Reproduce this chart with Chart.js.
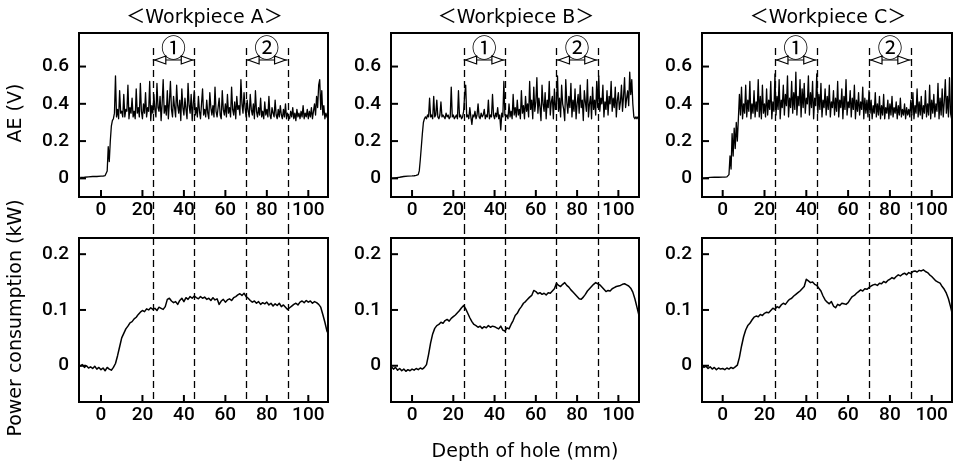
<!DOCTYPE html>
<html>
<head>
<meta charset="utf-8">
<script src="https://cdn.jsdelivr.net/npm/chart.js@4.4.1/dist/chart.umd.min.js"></script>
<style>
  html, body { margin:0; padding:0; background:#fff; width:955px; height:467px; overflow:hidden; }
  canvas { position:absolute; }
</style>
</head>
<body>
<canvas id="ae_A"></canvas>
<canvas id="ae_B"></canvas>
<canvas id="ae_C"></canvas>
<canvas id="power_A"></canvas>
<canvas id="power_B"></canvas>
<canvas id="power_C"></canvas>
<script>
// ---- data ----
var panelTitles = ["＜Workpiece A＞", "＜Workpiece B＞", "＜Workpiece C＞"];
var aeTitle = "AE (V)";
var powerTitle = "Power consumption (kW)";
var depthTitle = "Depth of hole (mm)";

var xTicks = [0, 20, 40, 60, 80, 100];
var aeTicks = [0, 0.2, 0.4, 0.6];
var powerTicks = [0, 0.1, 0.2];

var regionBounds = [25, 45, 70, 90];   // dashed lines
var regionLabels = ["①", "②"];         // between 25-45 and 70-90

// AE sampling grid: a few points before the jump, then every 0.5 mm
var aeDepth = [-10, -8, -6, -4, -2, 0, 1, 2, 3, 3.5, 4, 4.5, 5, 5.5];
for (var d = 6; d <= 110; d += 0.5) aeDepth.push(d);

var aeA = [
  0.005,0.006,0.008,0.01,0.01,0.012,0.012,0.015,0.04,0.17,0.09,0.2,0.28,0.31,
  0.32,0.35,0.55,0.33,0.37,0.32,0.47,0.35,0.36,0.33,   // 6-10.5
  0.45,0.33,0.37,0.36,0.50,0.32,0.38,0.35,0.43,0.33,   // 11-15.5
  0.36,0.32,0.48,0.35,0.38,0.33,0.51,0.36,0.32,0.40,   // 16-20.5
  0.35,0.46,0.33,0.38,0.36,0.52,0.31,0.39,0.35,0.45,   // 21-25.5
  0.37,0.33,0.51,0.38,0.36,0.44,0.31,0.40,0.53,0.35,   // 26-30.5
  0.39,0.34,0.47,0.32,0.41,0.52,0.37,0.33,0.44,0.38,   // 31-35.5
  0.33,0.50,0.39,0.35,0.42,0.31,0.48,0.38,0.34,0.43,   // 36-40.5
  0.37,0.32,0.51,0.39,0.35,0.45,0.31,0.40,0.47,0.34,   // 41-45.5
  0.38,0.33,0.44,0.36,0.32,0.40,0.48,0.34,0.37,0.33,   // 46-50.5
  0.42,0.35,0.32,0.46,0.38,0.34,0.39,0.33,0.49,0.36,   // 51-55.5
  0.33,0.38,0.43,0.34,0.32,0.47,0.37,0.34,0.40,0.33,   // 56-60.5
  0.45,0.35,0.38,0.33,0.49,0.37,0.34,0.41,0.32,0.44,   // 61-65.5
  0.37,0.39,0.34,0.53,0.40,0.35,0.46,0.38,0.33,0.42,   // 66-70.5
  0.36,0.33,0.45,0.37,0.34,0.40,0.32,0.47,0.36,0.33,   // 71-75.5
  0.38,0.34,0.43,0.33,0.36,0.32,0.41,0.34,0.37,0.33,   // 76-80.5
  0.44,0.34,0.32,0.38,0.35,0.33,0.42,0.34,0.32,0.37,   // 81-85.5
  0.33,0.39,0.34,0.32,0.37,0.33,0.40,0.32,0.35,0.33,   // 86-90.5
  0.32,0.36,0.33,0.38,0.32,0.35,0.31,0.37,0.33,0.35,   // 91-95.5
  0.32,0.36,0.33,0.39,0.32,0.35,0.33,0.37,0.32,0.36,   // 96-100.5
  0.33,0.38,0.32,0.36,0.40,0.34,0.44,0.38,0.50,0.53,   // 101-105.5
  0.37,0.47,0.34,0.39,0.32,0.35,0.33,0.32,0.33         // 106-110
];

var aeB = [
  0.0,0.003,0.006,0.01,0.012,0.013,0.014,0.016,0.02,0.04,0.1,0.17,0.24,0.3,
  0.32,0.33,0.32,0.34,0.33,0.43,0.33,0.34,0.32,0.44,   // 6-10.5
  0.33,0.34,0.42,0.33,0.32,0.34,0.41,0.33,0.34,0.33,   // 11-15.5
  0.32,0.35,0.33,0.34,0.32,0.33,0.49,0.33,0.34,0.32,   // 16-20.5
  0.33,0.34,0.32,0.47,0.33,0.34,0.32,0.33,0.36,0.45,   // 21-25.5
  0.50,0.33,0.34,0.32,0.38,0.33,0.29,0.34,0.33,0.36,   // 26-30.5
  0.32,0.34,0.40,0.33,0.32,0.35,0.33,0.34,0.37,0.32,   // 31-35.5
  0.34,0.33,0.42,0.32,0.34,0.33,0.45,0.34,0.32,0.35,   // 36-40.5
  0.33,0.38,0.32,0.34,0.26,0.35,0.33,0.52,0.34,0.33,   // 41-45.5
  0.34,0.32,0.40,0.33,0.36,0.32,0.45,0.34,0.38,0.33,   // 46-50.5
  0.42,0.34,0.37,0.32,0.47,0.35,0.39,0.32,0.44,0.36,   // 51-55.5
  0.40,0.33,0.52,0.37,0.42,0.32,0.49,0.36,0.41,0.54,   // 56-60.5
  0.35,0.43,0.38,0.31,0.50,0.40,0.36,0.46,0.32,0.42,   // 61-65.5
  0.38,0.52,0.34,0.41,0.44,0.32,0.48,0.37,0.40,0.55,   // 66-70.5
  0.36,0.43,0.33,0.50,0.40,0.37,0.31,0.53,0.41,0.35,   // 71-75.5
  0.44,0.38,0.51,0.33,0.42,0.36,0.48,0.32,0.40,0.45,   // 76-80.5
  0.35,0.50,0.38,0.42,0.31,0.47,0.41,0.36,0.53,0.33,   // 81-85.5
  0.40,0.44,0.32,0.49,0.37,0.42,0.34,0.52,0.38,0.55,   // 86-90.5
  0.36,0.43,0.40,0.50,0.33,0.41,0.37,0.47,0.34,0.44,   // 91-95.5
  0.40,0.52,0.36,0.43,0.38,0.49,0.33,0.42,0.46,0.37,   // 96-100.5
  0.41,0.50,0.36,0.44,0.54,0.38,0.43,0.47,0.39,0.57,   // 101-105.5
  0.45,0.53,0.40,0.33,0.32,0.33,0.32,0.33,0.32         // 106-110
];

var aeC = [
  0.0,0.003,0.005,0.006,0.006,0.007,0.007,0.008,0.02,0.12,0.05,0.24,0.12,0.27,
  0.16,0.30,0.20,0.32,0.45,0.34,0.49,0.32,0.40,0.35,   // 6-10.5
  0.50,0.33,0.42,0.36,0.52,0.32,0.40,0.35,0.47,0.33,   // 11-15.5
  0.41,0.36,0.53,0.33,0.44,0.32,0.50,0.35,0.40,0.33,   // 16-20.5
  0.48,0.34,0.42,0.37,0.52,0.32,0.41,0.36,0.56,0.34,   // 21-25.5
  0.44,0.37,0.53,0.32,0.42,0.38,0.50,0.34,0.45,0.39,   // 26-30.5
  0.55,0.33,0.43,0.38,0.52,0.35,0.46,0.37,0.57,0.34,   // 31-35.5
  0.44,0.39,0.53,0.33,0.48,0.38,0.51,0.35,0.43,0.40,   // 36-40.5
  0.55,0.34,0.46,0.38,0.52,0.32,0.43,0.39,0.56,0.35,   // 41-45.5
  0.45,0.37,0.51,0.33,0.42,0.38,0.48,0.34,0.44,0.37,   // 46-50.5
  0.50,0.33,0.41,0.38,0.47,0.34,0.43,0.36,0.52,0.33,   // 51-55.5
  0.42,0.38,0.48,0.32,0.44,0.37,0.53,0.34,0.41,0.38,   // 56-60.5
  0.47,0.33,0.43,0.37,0.50,0.32,0.42,0.36,0.46,0.34,   // 61-65.5
  0.41,0.37,0.49,0.32,0.43,0.35,0.42,0.33,0.47,0.35,   // 66-70.5
  0.42,0.32,0.39,0.35,0.46,0.33,0.40,0.34,0.44,0.32,   // 71-75.5
  0.39,0.34,0.45,0.32,0.38,0.35,0.42,0.32,0.40,0.34,   // 76-80.5
  0.44,0.33,0.38,0.35,0.41,0.32,0.39,0.34,0.43,0.33,   // 81-85.5
  0.37,0.34,0.40,0.32,0.38,0.34,0.37,0.33,0.42,0.34,   // 86-90.5
  0.46,0.32,0.39,0.35,0.48,0.33,0.41,0.34,0.44,0.32,   // 91-95.5
  0.39,0.35,0.47,0.33,0.40,0.34,0.50,0.32,0.42,0.35,   // 96-100.5
  0.45,0.33,0.40,0.36,0.51,0.32,0.43,0.34,0.48,0.33,   // 101-105.5
  0.41,0.53,0.35,0.44,0.33,0.54,0.35,0.32,0.33         // 106-110
];

// power sampling grid: every 1 mm from -10 to 110
var powerDepth = [];
for (var p = -10; p <= 110; p++) powerDepth.push(p);

var powerA = [
  -0.001,0.002,-0.003,0.000,-0.004,-0.002,-0.005,-0.001,-0.006,-0.003,  // -10..-1
  -0.007,-0.004,-0.009,-0.003,-0.006,-0.008,-0.003,0.004,0.018,0.034,   // 0..9
  0.05,0.058,0.066,0.071,0.077,0.079,0.084,0.087,0.092,0.096,           // 10..19
  0.099,0.097,0.102,0.1,0.104,0.101,0.103,0.099,0.105,0.103,            // 20..29
  0.101,0.106,0.119,0.121,0.116,0.113,0.115,0.11,0.117,0.121,           // 30..39
  0.115,0.122,0.119,0.124,0.121,0.125,0.122,0.12,0.124,0.121,           // 40..49
  0.123,0.119,0.121,0.117,0.122,0.118,0.12,0.11,0.116,0.119,            // 50..59
  0.114,0.118,0.12,0.117,0.122,0.124,0.127,0.129,0.126,0.13,            // 60..69
  0.124,0.121,0.117,0.114,0.116,0.112,0.115,0.11,0.113,0.111,           // 70..79
  0.114,0.109,0.112,0.107,0.111,0.108,0.112,0.106,0.109,0.105,          // 80..89
  0.101,0.104,0.107,0.11,0.112,0.109,0.114,0.116,0.113,0.117,           // 90..99
  0.114,0.116,0.112,0.115,0.113,0.11,0.105,0.092,0.078,0.062,           // 100..109
  0.055
];

var powerB = [
  -0.002,-0.006,-0.003,-0.008,-0.005,-0.009,-0.006,-0.01,-0.007,-0.009,
  -0.006,-0.008,-0.005,-0.007,-0.004,-0.006,-0.003,0.002,0.02,0.041,
  0.057,0.067,0.072,0.074,0.078,0.076,0.081,0.083,0.08,0.085,
  0.088,0.091,0.095,0.099,0.104,0.108,0.102,0.094,0.086,0.079,
  0.074,0.072,0.069,0.071,0.067,0.07,0.068,0.072,0.069,0.071,
  0.07,0.068,0.066,0.071,0.064,0.062,0.068,0.066,0.074,0.081,
  0.09,0.094,0.101,0.106,0.112,0.115,0.119,0.123,0.126,0.135,
  0.133,0.129,0.131,0.128,0.13,0.127,0.131,0.13,0.134,0.138,
  0.148,0.144,0.142,0.146,0.149,0.144,0.141,0.136,0.132,0.128,
  0.124,0.12,0.119,0.123,0.128,0.134,0.138,0.142,0.146,0.149,
  0.147,0.145,0.141,0.137,0.133,0.135,0.134,0.138,0.14,0.142,
  0.143,0.144,0.146,0.147,0.145,0.143,0.139,0.132,0.12,0.105,
  0.09
];

var powerC = [
  0.002,-0.003,-0.001,-0.005,-0.002,-0.006,-0.003,-0.007,-0.004,-0.006,
  -0.005,-0.007,-0.004,-0.006,-0.003,-0.005,-0.002,0.001,0.015,0.035,
  0.052,0.064,0.072,0.076,0.082,0.087,0.089,0.088,0.092,0.09,
  0.094,0.096,0.095,0.099,0.103,0.101,0.106,0.104,0.109,0.112,
  0.11,0.115,0.119,0.121,0.125,0.128,0.131,0.134,0.138,0.142,
  0.155,0.152,0.149,0.15,0.146,0.144,0.139,0.134,0.125,0.118,
  0.114,0.111,0.115,0.107,0.104,0.11,0.108,0.112,0.111,0.11,
  0.113,0.119,0.124,0.126,0.13,0.133,0.136,0.134,0.138,0.137,
  0.14,0.143,0.145,0.146,0.144,0.148,0.147,0.151,0.149,0.153,
  0.155,0.158,0.156,0.16,0.163,0.161,0.164,0.166,0.163,0.167,
  0.165,0.169,0.17,0.168,0.171,0.17,0.172,0.169,0.167,0.163,
  0.16,0.156,0.152,0.15,0.148,0.142,0.137,0.13,0.12,0.106,
  0.09
];

// ---- layout of the six panels ----
var plotLeft = [79, 391, 702];
var plotWidth = [249, 248, 250];
var xMin = [-10.6, -10.2, -9.9];
var xMax = [109.5, 110, 109.7];
var tickFont = { family: "Roboto, 'Liberation Sans', sans-serif", size: 19, weight: '500' };
var textFont = "'DejaVu Sans', 'Noto Sans CJK JP', sans-serif";

function toPoints(xs, ys) {
  var pts = [];
  for (var i = 0; i < xs.length && i < ys.length; i++) pts.push({ x: xs[i], y: ys[i] });
  return pts;
}

// frame, inner tick marks, dashed region lines, arrows and titles
var panelPlugin = {
  id: 'panel',
  afterDatasetsDraw: function(chart, args, opts) {
    var ctx = chart.ctx, a = chart.chartArea;
    var xs = chart.scales.x, ys = chart.scales.y;
    ctx.save();
    ctx.strokeStyle = '#000';
    ctx.fillStyle = '#000';

    ctx.lineWidth = 1.3;
    ctx.setLineDash([7, 4]);
    regionBounds.forEach(function(v) {
      var px = Math.round(xs.getPixelForValue(v)) + 0.5;
      ctx.beginPath();
      ctx.moveTo(px, opts.top ? 48 : a.top - 11);
      ctx.lineTo(px, opts.top ? chart.height : a.bottom);
      ctx.stroke();
    });
    ctx.setLineDash([]);

    ctx.lineWidth = 2;
    ctx.strokeRect(a.left, a.top, a.right - a.left, a.bottom - a.top);
    xTicks.forEach(function(v) {
      var px = xs.getPixelForValue(v);
      ctx.beginPath(); ctx.moveTo(px, a.bottom); ctx.lineTo(px, a.bottom - 7); ctx.stroke();
    });
    ys.ticks.forEach(function(t) {
      var py = ys.getPixelForValue(t.value);
      ctx.beginPath(); ctx.moveTo(a.left, py); ctx.lineTo(a.left + 7, py); ctx.stroke();
    });

    ctx.textAlign = 'center';
    ctx.textBaseline = 'middle';
    if (opts.top) {
      ctx.lineWidth = 1.2;
      for (var r = 0; r < regionLabels.length; r++) {
        var x1 = xs.getPixelForValue(regionBounds[r * 2]);
        var x2 = xs.getPixelForValue(regionBounds[r * 2 + 1]);
        var y = 60;
        ctx.beginPath(); ctx.moveTo(x1, y); ctx.lineTo(x2, y); ctx.stroke();
        [[x1 + 2, 1], [x2 - 2, -1]].forEach(function(h) {
          ctx.beginPath();
          ctx.moveTo(h[0], y);
          ctx.lineTo(h[0] + h[1] * 11, y - 4);
          ctx.lineTo(h[0] + h[1] * 11, y + 4);
          ctx.closePath();
          ctx.fillStyle = '#fff'; ctx.fill();
          ctx.stroke();
        });
        ctx.fillStyle = '#000';
        ctx.font = "25px 'Noto Sans CJK JP', 'DejaVu Sans', sans-serif";
        ctx.fillText(regionLabels[r], (x1 + x2) / 2, 47);
      }
      ctx.font = "19px " + textFont;
      ctx.fillText(opts.title, (a.left + a.right) / 2 + 1, 18);
    }
    if (opts.xTitle) {
      ctx.font = "19px " + textFont;
      ctx.fillText(opts.xTitle, (a.left + a.right) / 2 + 10, a.bottom + 50);
    }
    if (opts.yTitle) {
      ctx.font = "19px " + textFont;
      ctx.translate(16.5, (a.top + a.bottom) / 2 - 2);
      ctx.rotate(-Math.PI / 2);
      ctx.fillText(opts.yTitle, 0, 0);
    }
    ctx.restore();
  }
};

function makePanel(id, col, row, depth, values, yTicks, yMin, yMax) {
  var axisW = col == 0 ? 79 : 60;
  var canvas = document.getElementById(id);
  // bottom canvases start at 190 so the long left title fits; plot top stays at 238
  canvas.width = axisW + plotWidth[col] + 5;
  canvas.height = row == 0 ? 227 : 277;
  canvas.style.left = (plotLeft[col] - axisW) + 'px';
  canvas.style.top = (row == 0 ? 0 : 190) + 'px';

  return new Chart(canvas.getContext('2d'), {
    type: 'line',
    data: {
      datasets: [{
        data: toPoints(depth, values),
        borderColor: '#000',
        borderWidth: row == 0 ? 1.3 : 1.5,
        borderJoinStyle: 'round',
        pointRadius: 0,
        tension: 0,
        fill: false
      }]
    },
    options: {
      responsive: false,
      animation: false,
      devicePixelRatio: 1,
      layout: { padding: { top: row == 0 ? 33 : 48, right: 5, left: 0, bottom: 0 } },
      plugins: {
        legend: { display: false },
        tooltip: { enabled: false },
        panel: {
          top: row == 0,
          title: panelTitles[col],
          xTitle: (row == 1 && col == 1) ? depthTitle : null,
          yTitle: col == 0 ? (row == 0 ? aeTitle : powerTitle) : null
        }
      },
      scales: {
        x: {
          type: 'linear', min: xMin[col], max: xMax[col],
          afterBuildTicks: function(s) { s.ticks = xTicks.map(function(v) { return { value: v }; }); },
          afterFit: function(s) { s.height = row == 0 ? 30 : 65; },
          grid: { display: false, drawTicks: false },
          border: { display: false },
          ticks: { padding: 2, color: '#000', font: tickFont, maxRotation: 0,
                   callback: function(v) { return String(v); } }
        },
        y: {
          type: 'linear', min: yMin, max: yMax,
          afterBuildTicks: function(s) { s.ticks = yTicks.map(function(v) { return { value: v }; }); },
          afterFit: function(s) { s.width = axisW; },
          grid: { display: false, drawTicks: false },
          border: { display: false },
          ticks: { padding: 10, color: '#000', font: tickFont,
                   callback: function(v) { return String(v); } }
        }
      }
    },
    plugins: [panelPlugin]
  });
}

makePanel('ae_A', 0, 0, aeDepth, aeA, aeTicks, -0.1, 0.78);
makePanel('ae_B', 1, 0, aeDepth, aeB, aeTicks, -0.1, 0.78);
makePanel('ae_C', 2, 0, aeDepth, aeC, aeTicks, -0.1, 0.78);
makePanel('power_A', 0, 1, powerDepth, powerA, powerTicks, -0.065, 0.229);
makePanel('power_B', 1, 1, powerDepth, powerB, powerTicks, -0.065, 0.229);
makePanel('power_C', 2, 1, powerDepth, powerC, powerTicks, -0.065, 0.229);
</script>
</body>
</html>
